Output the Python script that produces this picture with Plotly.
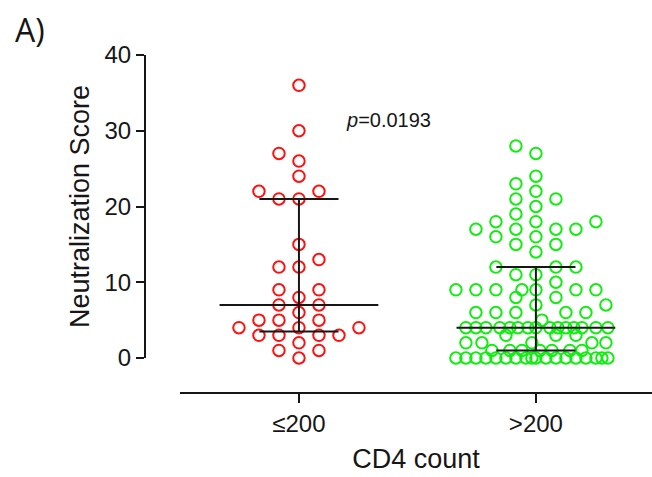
import numpy as np
import plotly.graph_objects as go

# ---- data -------------------------------------------------------------
groups = ["≤200", ">200"]

low_cd4_scores = [36, 30, 27, 26, 24, 22, 22, 21, 21, 15, 13, 12, 12, 9, 9, 8,
                  7, 7, 6, 5, 5, 5, 4, 4, 4, 3, 3, 3, 3, 2, 1, 1, 0]

high_cd4_scores = [28, 27, 24, 23, 22, 21, 21, 20, 19, 18, 18, 18, 17, 17, 17, 17,
                   16, 16, 15, 15, 14, 12, 12, 12, 11, 11, 10,
                   9, 9, 9, 9, 9, 9, 9, 8, 8, 7, 7, 6, 6, 6, 6, 6, 5,
                   4, 4, 4, 4, 4, 4, 4, 4, 4, 4, 4, 4, 4, 4, 4,
                   3, 3, 3, 2, 2, 2, 2, 2, 1, 1, 1, 1, 1, 1, 1,
                   0, 0, 0, 0, 0, 0, 0, 0, 0, 0, 0, 0, 0, 0, 0, 0, 0, 0]

p_value_text = "<i>p</i>=0.0193"

# ---- layout geometry --------------------------------------------------
W, H = 652, 477
M_L, M_R, M_T, M_B = 145, 0, 55, 84
plot_w = W - M_L - M_R
plot_h = H - M_T - M_B
y_dom = [35 / plot_h, 1.0]
x_dom = [35 / plot_w, 1.0]
x_range = [-0.502, 1.49]
y_range = [0, 40]

px_per_y = plot_h * (y_dom[1] - y_dom[0]) / (y_range[1] - y_range[0])
px_per_x = plot_w * (x_dom[1] - x_dom[0]) / (x_range[1] - x_range[0])

FONT = "Liberation Sans, Arial, sans-serif"
INK = "#161616"


def beeswarm_offsets(values, dx=20.0, dy=14.0, grid=10, max_half=72):
    """Greedy dot-plot layout (pixel offsets) on a half-column grid."""
    vals = np.asarray(values, dtype=float)
    order = np.argsort(vals, kind="stable")
    cands = sorted(range(-max_half // grid * grid, max_half + 1, grid),
                   key=lambda c: (abs(c), c))
    fine = np.arange(-max_half, max_half + 1, 2)
    px, py = [], []
    out = np.zeros(len(vals))
    for i in order:
        y = vals[i] * px_per_y
        chosen = None
        if not px:
            chosen = 0
        else:
            ax, ay = np.array(px), np.array(py)
            for c in cands:
                d = ((ax - c) / dx) ** 2 + ((ay - y) / dy) ** 2
                if d.min() >= 1.0:
                    chosen = c
                    break
            if chosen is None:
                d = ((ax[None, :] - fine[:, None]) / dx) ** 2 + \
                    ((ay[None, :] - y) / dy) ** 2
                score = d.min(axis=1) - 1e-4 * np.abs(fine)
                chosen = float(fine[int(np.argmax(score))])
        out[i] = chosen
        px.append(chosen)
        py.append(y)
    return out


fig = go.Figure()

series = [(low_cd4_scores, "#ff1010"), (high_cd4_scores, "#10ee10")]

for gi, (vals, color) in enumerate(series):
    offs = beeswarm_offsets(vals) / px_per_x
    fig.add_trace(go.Scatter(
        x=gi + offs, y=vals, mode="markers", cliponaxis=False,
        marker=dict(symbol="circle-open", size=11.5, color=color,
                    line=dict(width=2, color=color)),
        showlegend=False, hoverinfo="y"))

# median with interquartile range
for gi, (vals, _) in enumerate(series):
    q1, med, q3 = np.percentile(vals, [25, 50, 75], method="weibull")
    wm, wc = 0.335, 0.167
    xs = [gi - wm, gi + wm, None, gi - wc, gi + wc, None,
          gi - wc, gi + wc, None, gi, gi]
    ys = [med, med, None, q1, q1, None, q3, q3, None, q1, q3]
    fig.add_trace(go.Scatter(
        x=xs, y=ys, mode="lines", cliponaxis=False,
        line=dict(color=INK, width=2), showlegend=False, hoverinfo="skip"))

fig.add_annotation(x=0.38, y=31.4, xref="x", yref="y", text=p_value_text,
                   showarrow=False, font=dict(family=FONT, size=20, color=INK))
fig.add_annotation(x=(13 - M_L) / plot_w, xanchor="left",
                   y=(H - M_B - 29) / plot_h, yanchor="middle",
                   xref="paper", yref="paper", text="A)", showarrow=False,
                   font=dict(family="Open Sans, sans-serif", size=32, color=INK))

fig.update_layout(
    width=W, height=H,
    margin=dict(l=M_L, r=M_R, t=M_T, b=M_B, pad=0),
    paper_bgcolor="white", plot_bgcolor="white",
    font=dict(family=FONT, color=INK),
    xaxis=dict(domain=x_dom, range=x_range, anchor="free", position=0,
               tickvals=[0, 1], ticktext=groups, ticks="outside", ticklen=9,
               tickwidth=2, tickcolor=INK, showline=True, linewidth=2,
               linecolor=INK, showgrid=False, zeroline=False,
               tickfont=dict(size=24, family=FONT, color=INK),
               title=dict(text="CD4 count", standoff=12,
                          font=dict(size=27, family=FONT, color=INK)),
               automargin=False),
    yaxis=dict(domain=y_dom, range=y_range, anchor="free", position=0,
               tickvals=[0, 10, 20, 30, 40], ticks="outside", ticklen=8,
               tickwidth=2, tickcolor=INK, showline=True, linewidth=2,
               linecolor=INK, showgrid=False, zeroline=False,
               tickfont=dict(size=24, family=FONT, color=INK),
               title=dict(text="Neutralization Score", standoff=6,
                          font=dict(size=27, family=FONT, color=INK)),
               automargin=False),
)

fig.write_html("out.html")
